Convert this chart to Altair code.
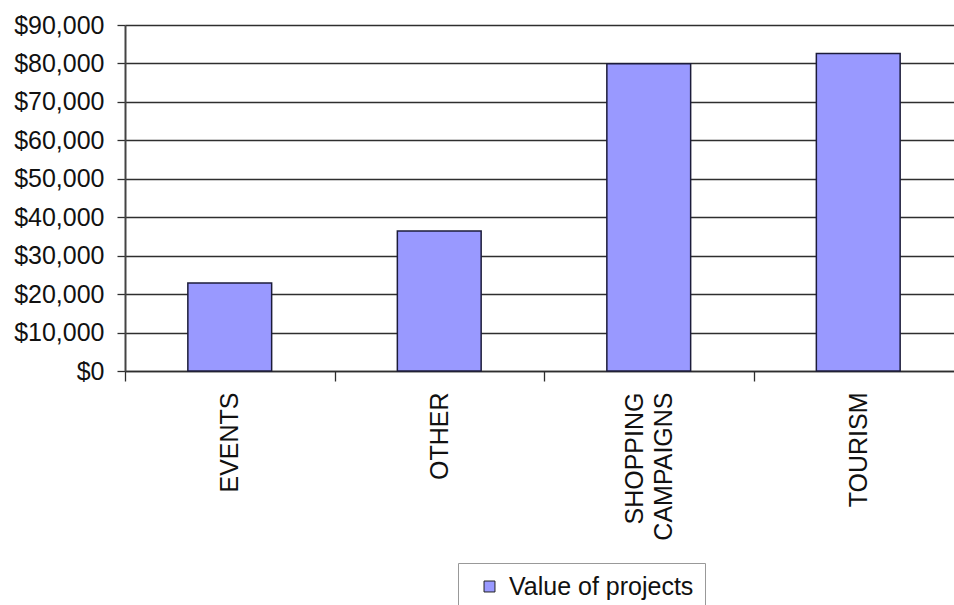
import altair as alt
import pandas as pd

# Project value by category
categories = ["EVENTS", "OTHER", "SHOPPING CAMPAIGNS", "TOURISM"]
values = [22900, 36400, 79900, 82600]
series_name = "Value of projects"
y_ticks = [0, 10000, 20000, 30000, 40000, 50000, 60000, 70000, 80000, 90000]

df = pd.DataFrame({
    "category": categories,
    "value": values,
    "series": [series_name] * len(categories),
})

FONT = "Liberation Sans"
BAR_FILL = "#9999FF"
LINE = "#2e2e2e"

# the two-word category is broken over two lines under its bar
two_line = "datum.label == 'SHOPPING CAMPAIGNS'"
label_expr = two_line + " ? ['SHOPPING\u2002', 'CAMPAIGNS'] : datum.label"

chart = alt.Chart(df).mark_bar(
    stroke="#1c1c3a", strokeWidth=1.5, width=alt.RelativeBandSize(0.4)
).encode(
    x=alt.X(
        "category:N",
        sort=categories,
        title=None,
        scale=alt.Scale(range=[0, 838], paddingInner=0, paddingOuter=0),
        axis=alt.Axis(
            labelAngle=-90,
            labelAlign="right",
            labelBaseline="middle",
            labelFont=FONT,
            labelFontSize=25,
            labelColor="#111111",
            labelPadding=11,
            labelLimit=400,
            labelLineHeight=29,
            labelExpr=label_expr,
            # keep the two-line block centred under its bar
            labelOffset={"condition": {"test": two_line, "value": -14}, "value": 0},
            tickBand="extent",
            tickSize=10,
            tickColor=LINE,
            tickWidth=1.3,
            domainColor=LINE,
            domainWidth=1.5,
        ),
    ),
    y=alt.Y(
        "value:Q",
        title=None,
        scale=alt.Scale(domain=[0, 90000], nice=False),
        axis=alt.Axis(
            values=y_ticks,
            format="$,.0f",
            grid=True,
            gridColor=LINE,
            gridWidth=1.3,
            tickSize=8,
            tickColor=LINE,
            tickWidth=1.3,
            labelPadding=13,
            labelFont=FONT,
            labelFontSize=25,
            labelColor="#111111",
            domainColor="#444444",
            domainWidth=2,
        ),
    ),
    color=alt.Color(
        "series:N",
        scale=alt.Scale(range=[BAR_FILL]),
        legend=alt.Legend(
            title=None,
            orient="none",
            legendX=333,
            legendY=538,
            padding=11,
            strokeColor="#999999",
            fillColor="white",
            symbolType="square",
            symbolSize=120,
            symbolStrokeColor="#222222",
            symbolStrokeWidth=1,
            symbolOffset=8,
            labelOffset=7,
            labelFont=FONT,
            labelFontSize=25,
            labelColor="#111111",
            labelLimit=400,
        ),
    ),
).properties(
    width=829,
    height=346,
    autosize=alt.AutoSizeParams(type="none"),
    padding={"left": 125, "top": 25, "right": 0, "bottom": 234},
).configure_view(
    stroke=None
).configure(
    background="white"
)

chart.save("out.html", embed_options={"renderer": "svg", "actions": False})
